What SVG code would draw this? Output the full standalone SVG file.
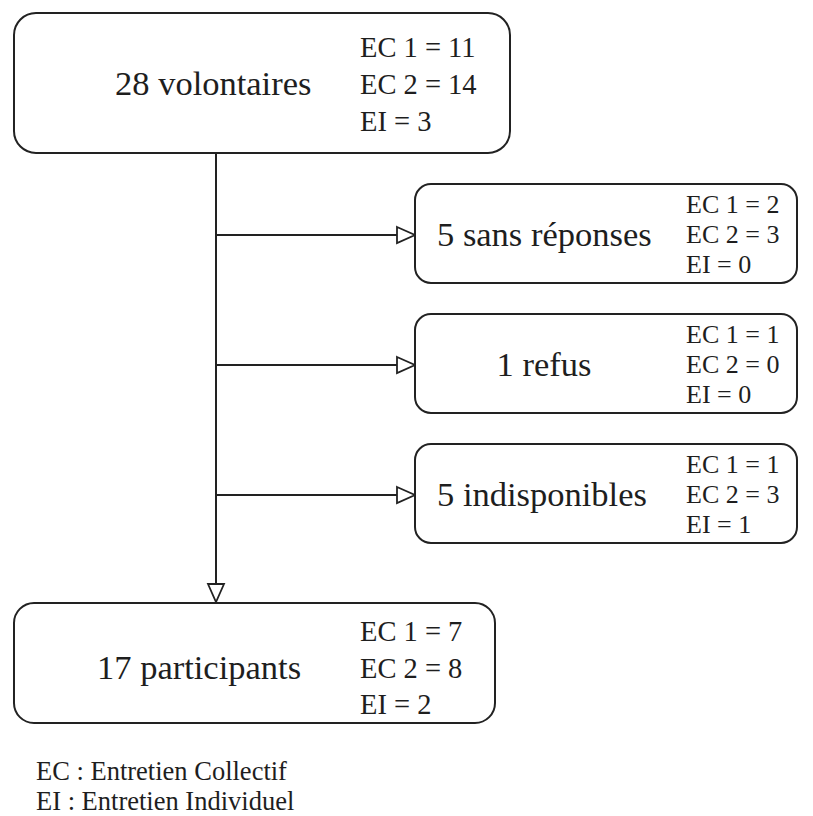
<svg xmlns="http://www.w3.org/2000/svg" width="813" height="816" viewBox="0 0 813 816">
<defs>
<marker id="arr" markerUnits="userSpaceOnUse" markerWidth="22" markerHeight="20" viewBox="0 0 22 20" refX="19" refY="10" orient="auto">
<path d="M1,2 L19,10 L1,18 Z" fill="#fff" stroke="#222" stroke-width="1.8" stroke-linejoin="miter"/>
</marker>
<style>
.box{fill:#fff;stroke:#222;stroke-width:2}
.conn{fill:none;stroke:#222;stroke-width:2}
text{font-family:"Liberation Serif","Times New Roman",serif;fill:#1e1e1e}
.big{font-size:34.5px}
.mid{font-size:28.5px}
.sm{font-size:26px}
.leg{font-size:26.5px}
</style>
</defs>
<rect width="813" height="816" fill="#fff"/>
<g id="connectors">
<line class="conn" x1="216" y1="153" x2="216" y2="602" marker-end="url(#arr)"/>
<line class="conn" x1="216" y1="235" x2="415" y2="235" marker-end="url(#arr)"/>
<line class="conn" x1="216" y1="365" x2="415" y2="365" marker-end="url(#arr)"/>
<line class="conn" x1="216" y1="495" x2="415" y2="495" marker-end="url(#arr)"/>
</g>
<g id="volontaires">
<rect class="box" x="14" y="13" width="496" height="140" rx="22"/>
<text class="big" x="115" y="95">28 volontaires</text>
<text class="mid" x="360" y="57">EC 1 = 11</text>
<text class="mid" x="360" y="94">EC 2 = 14</text>
<text class="mid" x="360" y="131">EI = 3</text>
</g>
<g id="sans-reponses">
<rect class="box" x="415" y="184" width="382" height="99" rx="16"/>
<text class="big" x="437" y="246">5 sans réponses</text>
<text class="sm" x="686" y="213">EC 1 = 2</text>
<text class="sm" x="686" y="243">EC 2 = 3</text>
<text class="sm" x="686" y="273">EI = 0</text>
</g>
<g id="refus">
<rect class="box" x="415" y="314" width="382" height="99" rx="16"/>
<text class="big" x="544" y="376" text-anchor="middle">1 refus</text>
<text class="sm" x="686" y="343">EC 1 = 1</text>
<text class="sm" x="686" y="373">EC 2 = 0</text>
<text class="sm" x="686" y="403">EI = 0</text>
</g>
<g id="indisponibles">
<rect class="box" x="415" y="444" width="382" height="99" rx="16"/>
<text class="big" x="437" y="506">5 indisponibles</text>
<text class="sm" x="686" y="473">EC 1 = 1</text>
<text class="sm" x="686" y="503">EC 2 = 3</text>
<text class="sm" x="686" y="533">EI = 1</text>
</g>
<g id="participants">
<rect class="box" x="14" y="603" width="481" height="120" rx="20"/>
<text class="big" x="97" y="679">17 participants</text>
<text class="mid" x="360" y="641">EC 1 = 7</text>
<text class="mid" x="360" y="678">EC 2 = 8</text>
<text class="mid" x="360" y="714">EI = 2</text>
</g>
<g id="legend">
<text class="leg" x="36" y="780">EC : Entretien Collectif</text>
<text class="leg" x="36" y="810">EI : Entretien Individuel</text>
</g>
</svg>
